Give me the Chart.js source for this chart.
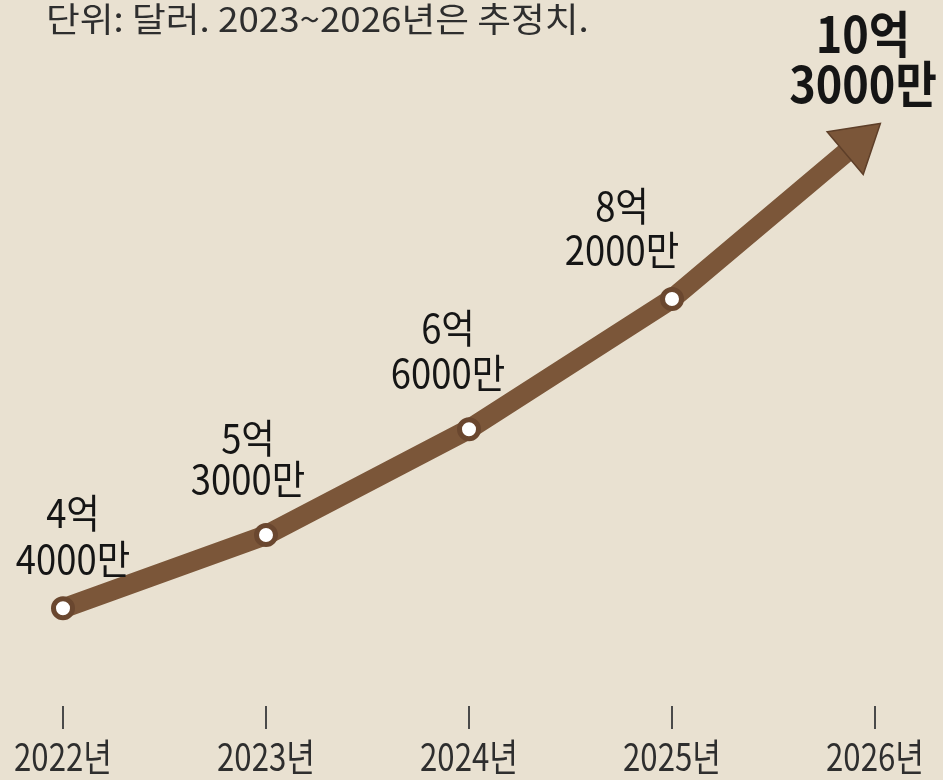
<!DOCTYPE html>
<html>
<head>
<meta charset="utf-8">
<script src="https://cdn.jsdelivr.net/npm/chart.js@4"></script>
<style>
  html, body { margin: 0; padding: 0; background: #e9e1d1; }
  #wrap { width: 943px; height: 780px; position: relative; }
</style>
</head>
<body>
<div id="wrap"><canvas id="c"></canvas></div>
<script>
// ---- data ----
const years = ['2022년', '2023년', '2024년', '2025년', '2026년'];
const values = [4.4, 5.3, 6.6, 8.2, 10.3];   // 단위: 억 달러
const noteText = '단위: 달러. 2023~2026년은 추정치.';

// ---- style constants ----
const BG = '#e9e1d1';
const BROWN = '#7b5639';
const BROWN_DARK = '#5e3f29';
const FONT = '"Noto Sans CJK KR", "Noto Sans", sans-serif';
const SX_LABEL = 0.91, SX_BOLD = 0.9, SX_TICK = 0.82;
// label offsets relative to each point: [dx, line1 dy, line2 dy]
const labelOffsets = [[10, -96, -50], [-18, -97, -56], [-21, -101, -56], [-50, -93, -49], [-12, -94, -44]];
const ARROW_EXT = 7, HEAD_LEN = 46, HEAD_HALF = 28;

function fmt(v) {
  const eok = Math.floor(v + 1e-9);
  const man = Math.round((v - eok) * 10000);
  return [eok + '억', man + '만'];
}

function drawText(ctx, str, x, y, font, color, sx, align) {
  ctx.save();
  ctx.translate(x, y);
  ctx.scale(sx, 1);
  ctx.font = font;
  ctx.fillStyle = color;
  ctx.textAlign = align || 'center';
  ctx.textBaseline = 'middle';
  ctx.fillText(str, 0, 0);
  ctx.restore();
}

function arrowGeom(chart) {
  const pts = chart.getDatasetMeta(0).data;
  const n = pts.length;
  const a = pts[n - 2], b = pts[n - 1];
  const dx = b.x - a.x, dy = b.y - a.y;
  const L = Math.hypot(dx, dy);
  const ux = dx / L, uy = dy / L;
  const tx = b.x + ux * ARROW_EXT, ty = b.y + uy * ARROW_EXT;
  const bx = tx - ux * HEAD_LEN, by = ty - uy * HEAD_LEN;
  return { ux, uy, nx: -uy, ny: ux, tx, ty, bx, by };
}

const arrowPlugin = {
  id: 'arrowHead',
  beforeDatasetsDraw(chart) {
    const g = arrowGeom(chart);
    const ctx = chart.ctx;
    const cx = g.bx + g.ux * 3, cy = g.by + g.uy * 3;
    const B = 4000;
    ctx.save();
    ctx.beginPath();
    ctx.moveTo(cx + g.nx * B, cy + g.ny * B);
    ctx.lineTo(cx - g.nx * B, cy - g.ny * B);
    ctx.lineTo(cx - g.nx * B - g.ux * B, cy - g.ny * B - g.uy * B);
    ctx.lineTo(cx + g.nx * B - g.ux * B, cy + g.ny * B - g.uy * B);
    ctx.closePath();
    ctx.clip();
  },
  afterDatasetsDraw(chart) {
    const ctx = chart.ctx;
    ctx.restore();
    const g = arrowGeom(chart);
    ctx.save();
    ctx.beginPath();
    ctx.moveTo(g.tx, g.ty);
    ctx.lineTo(g.bx + g.nx * HEAD_HALF, g.by + g.ny * HEAD_HALF);
    ctx.lineTo(g.bx - g.nx * HEAD_HALF, g.by - g.ny * HEAD_HALF);
    ctx.closePath();
    ctx.fillStyle = BROWN;
    ctx.fill();
    ctx.lineWidth = 1.5;
    ctx.strokeStyle = BROWN_DARK;
    ctx.lineJoin = 'miter';
    ctx.stroke();
    ctx.restore();
  }
};

const textPlugin = {
  id: 'texts',
  afterDraw(chart) {
    const ctx = chart.ctx;
    // note at top
    drawText(ctx, noteText, 46, 19, '34px ' + FONT, '#2e2e2e', 1.08, 'left');
    // value labels
    const pts = chart.getDatasetMeta(0).data;
    pts.forEach((p, i) => {
      const [l1, l2] = fmt(values[i]);
      const o = labelOffsets[i];
      const last = i === pts.length - 1;
      const font = last ? 'bold 50px ' + FONT : '40px ' + FONT;
      const sx = last ? SX_BOLD : SX_LABEL;
      drawText(ctx, l1, p.x + o[0], p.y + o[1], font, '#151515', sx);
      drawText(ctx, l2, p.x + o[0], p.y + o[2], font, '#151515', sx);
    });
    // x tick labels
    const xs = chart.scales.x;
    years.forEach((y, i) => {
      drawText(ctx, y, xs.getPixelForValue(i), 757, '38px ' + FONT, '#2e2e2e', SX_TICK);
    });
  }
};

const bgPlugin = {
  id: 'bg',
  beforeDraw(chart) {
    const ctx = chart.ctx;
    ctx.save();
    ctx.fillStyle = BG;
    ctx.fillRect(0, 0, chart.width, chart.height);
    ctx.restore();
  }
};

new Chart(document.getElementById('c'), {
  type: 'line',
  data: {
    labels: years,
    datasets: [{
      data: values,
      borderColor: BROWN,
      borderWidth: 20,
      borderJoinStyle: 'round',
      borderCapStyle: 'round',
      tension: 0,
      clip: false,
      pointRadius: [9.5, 9.5, 9.5, 9.5, 0],
      pointHoverRadius: [9.5, 9.5, 9.5, 9.5, 0],
      pointBorderWidth: 5,
      pointBackgroundColor: '#ffffff',
      pointBorderColor: '#6a472f'
    }]
  },
  options: {
    responsive: true,
    maintainAspectRatio: false,
    animation: false,
    events: [],
    layout: { padding: { top: 71, left: 63, right: 68, bottom: 0 } },
    plugins: { legend: { display: false }, tooltip: { enabled: false } },
    scales: {
      x: {
        offset: false,
        border: { display: false },
        grid: { drawOnChartArea: false, drawTicks: true, tickLength: 23, color: '#4a4a4a', lineWidth: 2 },
        ticks: { display: false },
        afterFit(scale) { scale.height = 74; }
      },
      y: {
        display: false,
        min: 3.2,
        max: 11
      }
    }
  },
  plugins: [bgPlugin, arrowPlugin, textPlugin]
});
</script>
</body>
</html>
